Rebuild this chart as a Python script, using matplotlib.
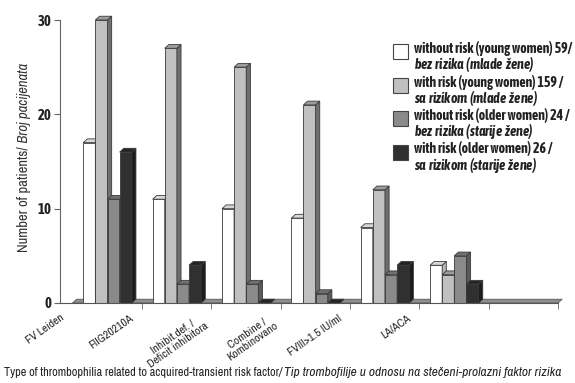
import matplotlib
matplotlib.use("Agg")
import matplotlib.pyplot as plt
from matplotlib import font_manager
from matplotlib.patches import Polygon, Rectangle

# data
categories = ["FV Leiden", "FIIG20210A", "Inhibit.def. /\nDeficit inhibitora",
              "Combine /\nKombinovano", "FVIII>1.5 IU/ml", "LA/ACA"]
young_no_risk = [17, 11, 10, 9, 8, 4]
young_risk = [30, 27, 25, 21, 12, 3]
older_no_risk = [11, 2, 2, 1, 3, 5]
older_risk = [16, 4, 0, 0, 4, 2]
yticks = [0, 10, 20, 30]
n_slots = 7

labels_en = ["without risk (young women) 59/", "with risk (young women) 159 /",
             "without risk (older women) 24 /", "with risk (older women) 26 /"]
labels_sr = ["bez rizika (mlade žene)", "sa rizikom (mlade žene)",
             "bez rizika (starije žene)", "sa rizikom (starije žene)"]

series = [young_no_risk, young_risk, older_no_risk, older_risk]
front = ["#ffffff", "#c0c0c0", "#8a8a8a", "#303030"]
side = ["#b4b4b4", "#6e6e6e", "#5a5a5a", "#1c1c1c"]
top = ["#d6d6d6", "#9c9c9c", "#707070", "#242424"]
edge = "#3a3a3a"

names = {f.name for f in font_manager.fontManager.ttflist}
narrow = "Archivo Narrow" if "Archivo Narrow" in names else "Liberation Sans"
narrow_bold = "Asap Condensed" if "Asap Condensed" in names else "Liberation Sans"
plt.rcParams["font.family"] = [narrow, "DejaVu Sans"]
plt.rcParams["mathtext.fontset"] = "custom"
plt.rcParams["mathtext.bf"] = narrow_bold + ":bold"
plt.rcParams["mathtext.bfit"] = narrow_bold + ":italic:bold"
BOLD = [narrow_bold, "DejaVu Sans"]

W, H = 575, 383
fig = plt.figure(figsize=(W / 100, H / 100), dpi=100)
ax = fig.add_axes([60 / W, 1 - 303 / H, 498 / W, 283 / H])

bw = 0.175
start = 0.155
dx, dy = 0.06, 0.4

def box3d(x, h, k):
    ax.bar(x, h, bw, align="edge", color=front[k], edgecolor=edge, linewidth=0.6, clip_on=False)
    ax.add_patch(Polygon([(x + bw, 0), (x + bw + dx, dy), (x + bw + dx, h + dy), (x + bw, h)],
                         closed=True, fc=side[k], ec=edge, lw=0.6, clip_on=False))
    ax.add_patch(Polygon([(x, h), (x + bw, h), (x + bw + dx, h + dy), (x + dx, h + dy)],
                         closed=True, fc=top[k], ec=edge, lw=0.6, clip_on=False))

# floor
ax.add_patch(Polygon([(0, 0), (n_slots, 0), (n_slots + dx, dy), (dx, dy)], closed=True,
                     fc="#8e8e8e", ec="#555555", lw=0.6, clip_on=False))

for i in range(len(categories)):
    for k, vals in enumerate(series):
        box3d(i + start + k * bw, vals[i], k)

ax.set_xlim(0, n_slots)
ax.set_ylim(0, 30)
for s in ["top", "right"]:
    ax.spines[s].set_visible(False)
ax.spines["left"].set_color("#666666")
ax.spines["bottom"].set_color("#555555")
ax.set_yticks(yticks)
ax.set_yticklabels([str(t) for t in yticks], family=BOLD, fontweight="bold", fontsize=10.5,
                   color="#222222")
ax.tick_params(axis="y", length=4, color="#666666", pad=2)

ax.set_xticks(range(1, n_slots + 1), minor=True)
ax.tick_params(axis="x", which="minor", length=4, color="#666666")
ax.set_xticks([i + 0.5 - 0.68 for i in range(len(categories))])
ax.set_xticklabels(categories, rotation=35, ha="right", rotation_mode="anchor",
                   fontsize=8.3, color="#222222", multialignment="center", linespacing=1.0)
ax.tick_params(axis="x", which="major", length=0, pad=7)
ax.patch.set_visible(False)

# overlay in pixel coordinates for legend and titles
ov = fig.add_axes([0, 0, 1, 1])
ov.set_xlim(0, W)
ov.set_ylim(H, 0)
ov.axis("off")
ov.patch.set_visible(False)

def mt(s):
    return s.replace(" ", r"\>")

for k in range(4):
    y0 = 44 + k * 33.5
    ov.add_patch(Rectangle((393, y0), 15, 15, fc=front[k], ec="#444444", lw=0.8))
    ov.text(414, y0 - 3, labels_en[k] + "\n" + r"$\mathbfit{" + mt(labels_sr[k]) + "}$",
            family=BOLD, fontsize=10, fontweight="bold", color="#222222", va="top",
            linespacing=0.95)

t1 = ov.text(24, 252, "Number of patients/", rotation=90, ha="center", va="bottom",
             fontsize=10.5, color="#333333")
ov.annotate(" Broj pacijenata", xy=(0.5, 1), xycoords=t1, rotation=90, ha="center", va="bottom",
            fontsize=10.5, style="italic", color="#333333")

t2 = ov.text(4, 372, "Type of thrombophilia related to acquired-transient risk factor", ha="left",
             va="center", fontsize=8.8, color="#222222")
ov.annotate("/ Tip trombofilije u odnosu na stečeni-prolazni faktor rizika", xy=(1, 0), xycoords=t2,
            ha="left", va="bottom", fontsize=9.6, style="italic", color="#222222")

fig.savefig("out.png", dpi=100)
